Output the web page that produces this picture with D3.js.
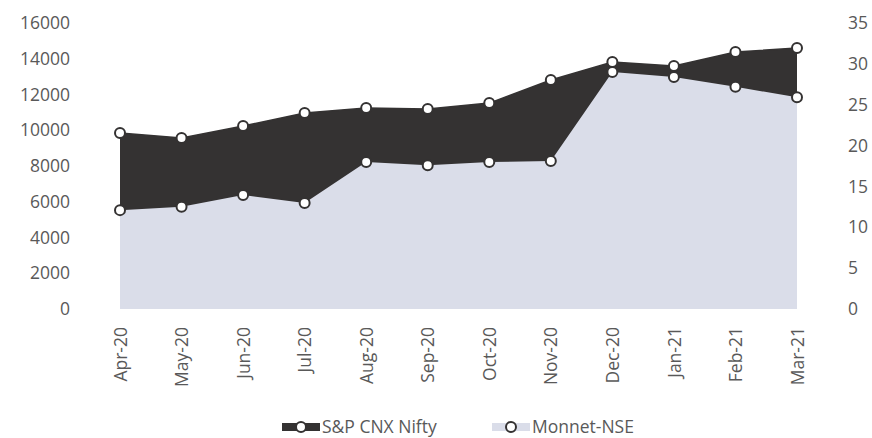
<!DOCTYPE html>
<html>
<head>
<meta charset="utf-8">
<script src="https://cdn.jsdelivr.net/npm/d3@7"></script>
<style>
  body { margin: 0; background: #fff; }
  text { font-family: "Open Sans", sans-serif; fill: #595959; }
</style>
</head>
<body>
<script>
// data
var months = ["Apr-20","May-20","Jun-20","Jul-20","Aug-20","Sep-20","Oct-20","Nov-20","Dec-20","Jan-21","Feb-21","Mar-21"];
var nifty = [9850, 9570, 10240, 10970, 11250, 11190, 11520, 12810, 13820, 13590, 14380, 14600];
var monnet = [12.1, 12.5, 13.95, 12.97, 18.0, 17.6, 18.0, 18.1, 29.0, 28.4, 27.2, 25.9];
var leftTicks = [0, 2000, 4000, 6000, 8000, 10000, 12000, 14000, 16000];
var rightTicks = [0, 5, 10, 15, 20, 25, 30, 35];
var seriesNames = ["S&P CNX Nifty", "Monnet-NSE"];

var width = 872;
var height = 438;
var plot = {left: 120, right: 797, top: 23, bottom: 309};
var fontSize = "17.5px";

var colors = { dark: "#343232", light: "#dadde9", text: "#595959" };

var data = months.map(function(m, i){
  return { month: m, nifty: nifty[i], monnet: monnet[i] };
});

// scales
var x = d3.scalePoint()
  .domain(months)
  .range([plot.left, plot.right]);

var yLeft = d3.scaleLinear()
  .domain([0, 16000])
  .range([plot.bottom, plot.top]);

var yRight = d3.scaleLinear()
  .domain([0, 35])
  .range([plot.bottom, plot.top]);

var svg = d3.select("body")
  .append("svg")
  .attr("width", width)
  .attr("height", height);

/* areas: nifty behind, monnet in front */
var areaNifty = d3.area()
  .x(d => x(d.month))
  .y0(yLeft(0))
  .y1(d => yLeft(d.nifty));

var areaMonnet = d3.area()
  .x(d => x(d.month))
  .y0(yRight(0))
  .y1(d => yRight(d.monnet));

svg.append("path")
  .datum(data)
  .attr("d", areaNifty)
  .style("fill", colors.dark);

/* outline along the top of the nifty area */
svg.append("path")
  .datum(data)
  .attr("d", d3.line().x(d => x(d.month)).y(d => yLeft(d.nifty)))
  .style("fill", "none")
  .style("stroke", colors.dark)
  .style("stroke-width", 1.5);

svg.append("path")
  .datum(data)
  .attr("d", areaMonnet)
  .style("fill", colors.light);

/* markers */
svg.append("g")
  .selectAll("circle")
  .data(data)
  .enter()
  .append("circle")
  .attr("cx", d => x(d.month))
  .attr("cy", d => yLeft(d.nifty))
  .attr("r", 5)
  .style("fill", "#fff")
  .style("stroke", colors.dark)
  .style("stroke-width", 2);

svg.append("g")
  .selectAll("circle")
  .data(data)
  .enter()
  .append("circle")
  .attr("cx", d => x(d.month))
  .attr("cy", d => yRight(d.monnet))
  .attr("r", 5)
  .style("fill", "#fff")
  .style("stroke", colors.dark)
  .style("stroke-width", 2);

/* axes */
var leftAxis = g => g
  .attr("transform", "translate(74,0)")
  .call(d3.axisLeft(yLeft).tickValues(leftTicks).tickFormat(d3.format("d")).tickSize(0).tickPadding(4))
  .call(g => g.select(".domain").remove());

var rightAxis = g => g
  .attr("transform", "translate(844,0)")
  .call(d3.axisRight(yRight).tickValues(rightTicks).tickFormat(d3.format("d")).tickSize(0).tickPadding(4))
  .call(g => g.select(".domain").remove());

svg.append("g").call(leftAxis)
  .selectAll("text")
  .style("font-size", fontSize)
  .attr("fill", colors.text);

svg.append("g").call(rightAxis)
  .selectAll("text")
  .style("font-size", fontSize)
  .attr("fill", colors.text);

/* month labels, rotated */
var xAxis = g => g
  .attr("transform", `translate(0,${plot.bottom + 18})`)
  .call(d3.axisBottom(x).tickSize(0).tickPadding(0))
  .call(g => g.select(".domain").remove())
  .call(g => g.selectAll("text")
    .attr("transform", "rotate(-90)")
    .attr("x", 0)
    .attr("y", 0)
    .attr("dx", 0)
    .attr("dy", "0.35em")
    .style("text-anchor", "end")
    .style("font-size", fontSize)
    .attr("fill", colors.text));

svg.append("g").call(xAxis);

/* legend */
var legend = svg.append("g")
  .attr("transform", "translate(0,427)");

var legendItems = [
  { name: seriesNames[0], x0: 282, fill: colors.dark },
  { name: seriesNames[1], x0: 492, fill: colors.light }
];

legendItems.forEach(function(d){
  legend.append("rect")
    .attr("x", d.x0)
    .attr("y", -4)
    .attr("width", 38)
    .attr("height", 8)
    .style("fill", d.fill);
  legend.append("circle")
    .attr("cx", d.x0 + 19)
    .attr("cy", 0)
    .attr("r", 5)
    .style("fill", "#fff")
    .style("stroke", colors.dark)
    .style("stroke-width", 2);
  legend.append("text")
    .attr("x", d.x0 + 40)
    .attr("y", 0)
    .attr("dy", "0.35em")
    .style("font-size", fontSize)
    .text(d.name);
});
</script>
</body>
</html>
